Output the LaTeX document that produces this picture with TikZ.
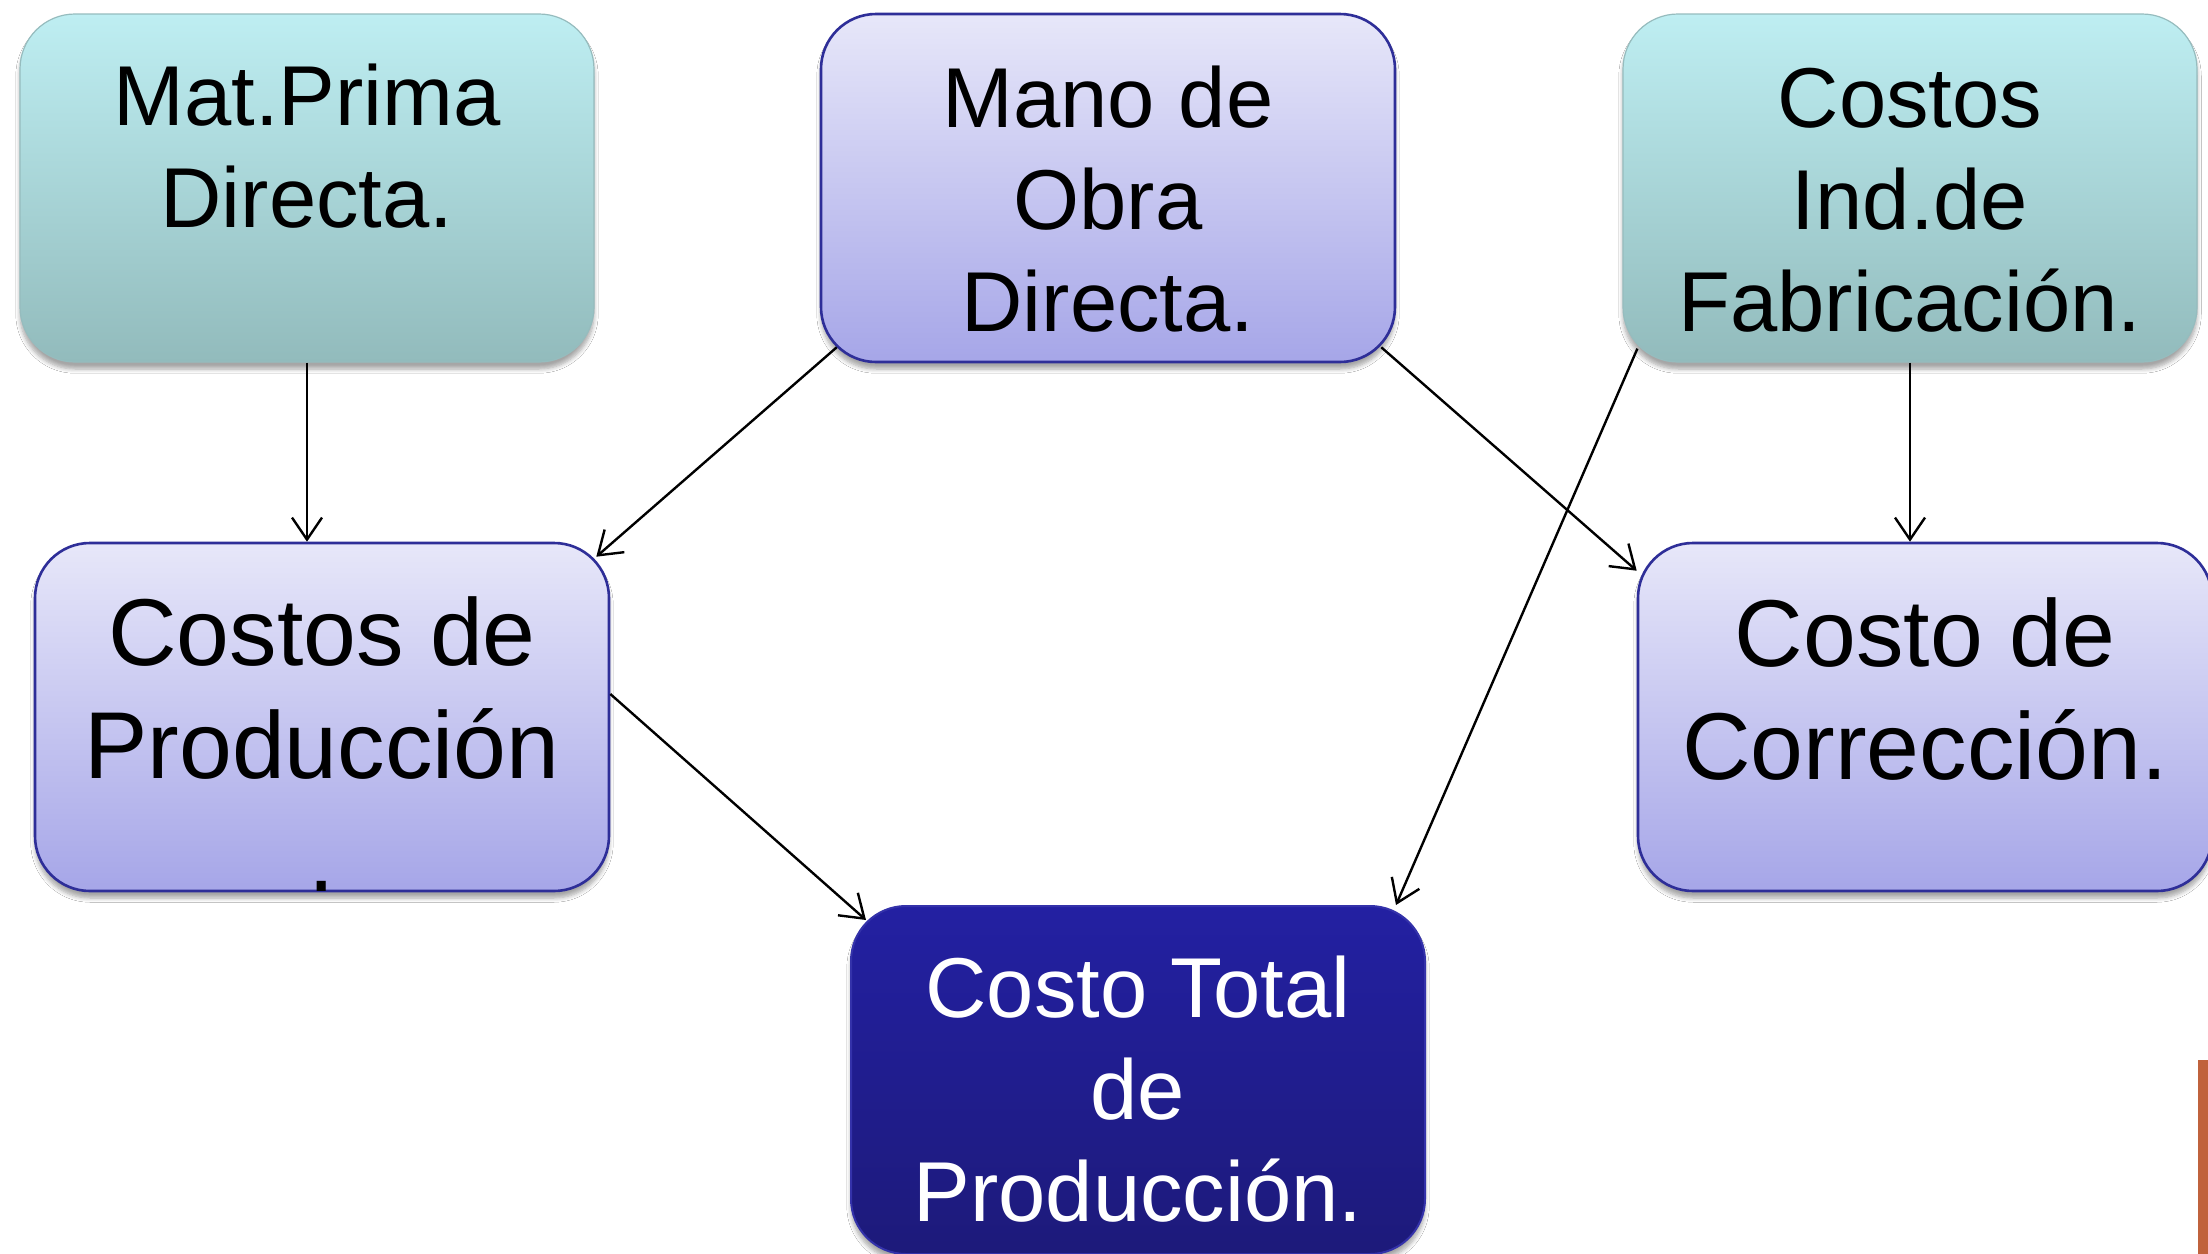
\documentclass[tikz,border=0pt]{standalone}
\usepackage{fontspec}
\setmainfont{Liberation Sans}
\usetikzlibrary{arrows.meta,calc,shadows.blur}

\definecolor{tealtop}{RGB}{190,238,242}
\definecolor{tealbot}{RGB}{146,187,188}
\definecolor{tealline}{RGB}{150,188,190}
\definecolor{lavtop}{RGB}{231,231,249}
\definecolor{lavbot}{RGB}{166,166,232}
\definecolor{navyline}{RGB}{46,46,152}
\definecolor{tottop}{RGB}{35,32,162}
\definecolor{totbot}{RGB}{29,26,122}
\definecolor{totline}{RGB}{52,50,170}
\definecolor{brownbar}{RGB}{192,98,60}

\begin{document}
\begin{tikzpicture}[x=0.5pt,y=-0.5pt,
  box/.style={rounded corners=27.5pt, minimum width=287pt, minimum height=174pt, inner sep=0pt,
    blur shadow={shadow xshift=0pt, shadow yshift=-3.5pt, shadow blur steps=6, shadow opacity=35}},
  tealbox/.style={box, top color=tealtop, bottom color=tealbot, draw=tealline, line width=0.6pt},
  lavbox/.style={box, top color=lavtop, bottom color=lavbot, draw=navyline, line width=1.3pt},
  totbox/.style={box, top color=tottop, bottom color=totbot, draw=totline, line width=1pt},
  smalltxt/.style={anchor=base, align=center, inner sep=0pt, font=\fontsize{42.5pt}{51pt}\selectfont},
  bigtxt/.style={anchor=base, align=center, inner sep=0pt, font=\fontsize{47.5pt}{56.5pt}\selectfont},
  arr/.style={-{Straight Barb[length=11pt,width=15pt]}, line width=1.2pt, black}
]
\useasboundingbox (0,0) rectangle (2208,1254);
\fill[white] (0,0) rectangle (2208,1254);
\begin{scope}
\clip (0,0) rectangle (2208,1254);

% boxes
\node[tealbox] (mat) at (307,188) {};
\node[lavbox]  (mano) at (1108,188) {};
\node[tealbox] (cif) at (1910,188) {};
\node[lavbox]  (cp) at (322,717) {};
\node[lavbox]  (corr) at (1925,717) {};
\node[totbox]  (tot) at (1138,1080) {};

% texts (anchor base = baseline of last line)
\node[smalltxt] (matT) at (307,227) {Mat.Prima\\Directa.};
\node[smalltxt] (manoT) at (1108,331) {Mano de\\Obra\\Directa.};
\node[smalltxt] (cifT) at (1910,331) {Costos\\Ind.de\\Fabricación.};
\node[bigtxt] (cpT) at (322,891) {Costos de\\Producción\\.};
\node[bigtxt] (corrT) at (1925,779) {Costo de\\Corrección.};
\node[smalltxt, text=white] (totT) at (1138,1221) {Costo Total\\de\\Producción.};

% connectors
\draw[arr] (mat.south) -- (mat.south |- cp.north);
\draw[arr] (cif.south) -- (cif.south |- corr.north);
\draw[arr] ($(mano.south west)+(17,-16)$) -- ($(cp.north east)+(-14,15)$);
\draw[arr] ($(mano.south east)+(-15,-16)$) -- ($(corr.north west)+(0,29)$);
\draw[arr] ($(cif.south west)+(15,-14)$) -- ($(tot.north east)+(-30,0)$);
\draw[arr] ($(cp.east)+(0,-23)$) -- ($(tot.north west)+(16,15)$);

% partial object at right edge
\fill[brownbar] (2198,1060) rectangle (2214,1260);
\end{scope}
\end{tikzpicture}
\end{document}
